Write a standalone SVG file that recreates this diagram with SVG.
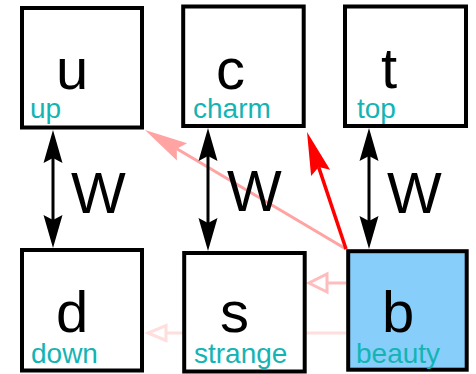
<svg xmlns="http://www.w3.org/2000/svg" width="476" height="374" viewBox="0 0 476 374">
  <style>
    .box { fill: #ffffff; stroke: #000000; stroke-width: 4; }
    .box.hi { fill: #87cefa; }
    .sym { font-family: "Liberation Sans", Arial, sans-serif; font-size: 58px; fill: #000000; }
    .name { font-family: "Liberation Sans", Arial, sans-serif; font-size: 28px; fill: #14b4b4; }
    .wlbl { font-family: "Liberation Sans", Arial, sans-serif; font-size: 58px; fill: #000000; }
    .w { stroke: #000000; stroke-width: 3; fill: none; }
    .mix1 { stroke: #ff0000; stroke-width: 3.5; fill: none; }
    .mix2 { stroke: #ffa3a3; stroke-width: 3; fill: none; }
    .mix3 { stroke: #ffbcbc; stroke-width: 3; fill: none; }
    .mix4 { stroke: #ffdede; stroke-width: 3; fill: none; }
  </style>
  <defs>
    <!-- stealth heads; the line stops at the notch, the tip sits ahead of it -->
    <marker id="headBlack" markerUnits="userSpaceOnUse" viewBox="-6 -11 36 22" markerWidth="36" markerHeight="22" refX="0" refY="0" orient="auto-start-reverse">
      <path d="M28,0 L-5,-9.5 L0,0 L-5,9.5 Z" fill="#000000"/>
    </marker>
    <marker id="headRed" markerUnits="userSpaceOnUse" viewBox="-8 -11 48 22" markerWidth="48" markerHeight="22" refX="0" refY="0" orient="auto">
      <path d="M37,0 L-6,-10 L0,0 L-6,10 Z" fill="#ff0000"/>
    </marker>
    <marker id="headPink" markerUnits="userSpaceOnUse" viewBox="-8 -11 48 22" markerWidth="48" markerHeight="22" refX="0" refY="0" orient="auto">
      <path d="M37,0 L-6,-10 L0,0 L-6,10 Z" fill="#ffa3a3"/>
    </marker>
    <!-- open triangle heads -->
    <marker id="openMid" markerUnits="userSpaceOnUse" viewBox="-2 -12 24 24" markerWidth="24" markerHeight="24" refX="0" refY="0" orient="auto">
      <path d="M0,-9 L18,0 L0,9 Z" fill="#ffffff" stroke="#ffbcbc" stroke-width="3"/>
    </marker>
    <marker id="openLight" markerUnits="userSpaceOnUse" viewBox="-2 -12 24 24" markerWidth="24" markerHeight="24" refX="0" refY="0" orient="auto">
      <path d="M0,-7.5 L18,0 L0,7.5 Z" fill="#ffffff" stroke="#ffdede" stroke-width="3"/>
    </marker>
  </defs>

  <g id="connectors">
    <!-- weaker mixings from b -->
    <line class="mix4" x1="346" y1="333" x2="166" y2="333" marker-end="url(#openLight)"/>
    <line class="mix3" x1="346" y1="283" x2="327" y2="283" marker-end="url(#openMid)"/>
    <line class="mix2" x1="346" y1="249" x2="176.8" y2="148.8" marker-end="url(#headPink)"/>
    <!-- dominant b to c -->
    <line class="mix1" x1="346" y1="249" x2="318.7" y2="167.1" marker-end="url(#headRed)"/>
    <!-- W doublets -->
    <line class="w" x1="53" y1="158" x2="53" y2="220" marker-start="url(#headBlack)" marker-end="url(#headBlack)"/>
    <line class="w" x1="208" y1="156" x2="208" y2="223" marker-start="url(#headBlack)" marker-end="url(#headBlack)"/>
    <line class="w" x1="369" y1="156" x2="369" y2="221" marker-start="url(#headBlack)" marker-end="url(#headBlack)"/>
    <text class="wlbl" x="71" y="213">W</text>
    <text class="wlbl" x="227" y="211">W</text>
    <text class="wlbl" x="387" y="213">W</text>
  </g>

  <g id="u">
    <rect class="box" x="22" y="8" width="120" height="119.5"/>
    <text class="sym" x="56" y="89">u</text>
    <text class="name" x="30" y="118">up</text>
  </g>
  <g id="c">
    <rect class="box" x="183.2" y="6.5" width="120.5" height="119.5"/>
    <text class="sym" x="216" y="89">c</text>
    <text class="name" x="193" y="118">charm</text>
  </g>
  <g id="t">
    <rect class="box" x="345" y="6.5" width="121" height="119.5"/>
    <text class="sym" x="381" y="88">t</text>
    <text class="name" x="357" y="118">top</text>
  </g>
  <g id="d">
    <rect class="box" x="22" y="250" width="120" height="120.5"/>
    <text class="sym" x="56" y="332">d</text>
    <text class="name" x="31" y="363">down</text>
  </g>
  <g id="s">
    <rect class="box" x="184.2" y="253" width="120.5" height="118.5"/>
    <text class="sym" x="220" y="332">s</text>
    <text class="name" x="194" y="363">strange</text>
  </g>
  <g id="b">
    <rect class="box hi" x="348.2" y="251.2" width="118.5" height="118.5"/>
    <text class="sym" x="382" y="332">b</text>
    <text class="name" x="356" y="363">beauty</text>
  </g>
</svg>
